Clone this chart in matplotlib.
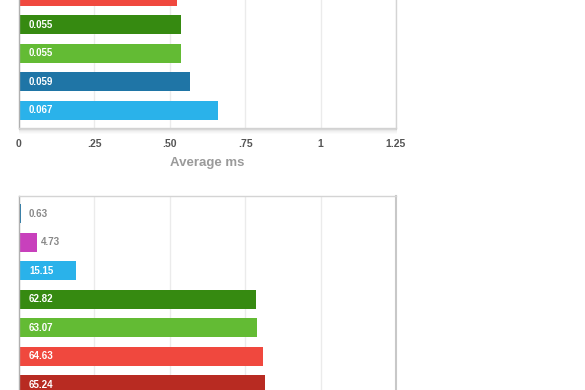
import matplotlib
matplotlib.use("Agg")
import matplotlib.pyplot as plt

plt.rcParams['font.family'] = ['Liberation Sans', 'DejaVu Sans']

# top chart (only the lower part is visible)
top_values = [0.524, 0.537, 0.537, 0.567, 0.66]
top_labels = ['0.054', '0.055', '0.055', '0.059', '0.067']
top_colors = ['#f0483e', '#368a11', '#63bb34', '#1f75a6', '#2ab2ea']
top_ticks = [0, 0.25, 0.5, 0.75, 1, 1.25]
top_ticklabels = ['0', '.25', '.50', '.75', '1', '1.25']

# bottom chart (only the upper part is visible)
bot_values = [0.63, 4.73, 15.15, 62.82, 63.07, 64.63, 65.24]
bot_labels = ['0.63', '4.73', '15.15', '62.82', '63.07', '64.63', '65.24']
bot_colors = ['#1f75a6', '#c840bc', '#2ab2ea', '#368a11', '#63bb34', '#f0483e', '#b82b22']
bot_ticks = [0, 20, 40, 60, 80, 100]

W, H = 585, 390
fig = plt.figure(figsize=(W / 100, H / 100), dpi=100)

step = 28.5      # px between bar centres
margin = 0.62    # in bar units
left, right = 19, 396


def make_axes(top_px, n):
    h = (n - 1 + 2 * margin) * step
    return fig.add_axes([left / W, 1 - (top_px + h) / H, (right - left) / W, h / H])


def draw(ax, values, labels, colors, xmax, ticks):
    n = len(values)
    ys = list(range(n))
    ax.barh(ys, values, height=0.67, color=colors, zorder=2)
    ax.set_ylim(n - 1 + margin, -margin)
    ax.set_xlim(0, xmax)
    ax.set_xticks(ticks)
    ax.set_yticks([])
    ax.grid(axis='x', color='#ebebeb', linewidth=1, zorder=0)
    for s in ax.spines.values():
        s.set_color('#d4d4d4')
        s.set_linewidth(1)
    ax.spines['left'].set_color('#b0b0b0')
    px = xmax / (right - left)
    for y, v, lab in zip(ys, values, labels):
        if v / px > 40:
            ax.text(10 * px, y, lab, color='white', fontsize=7,
                    fontweight='bold', va='center', ha='left', zorder=3)
        else:
            ax.text(max(v + 4 * px, 10 * px), y, lab, color='#888888',
                    fontsize=7, fontweight='bold', va='center', ha='left', zorder=3)


# top axes: bottom edge at y=128 px
h_top = (len(top_values) - 1 + 2 * margin) * step
ax1 = make_axes(128 - h_top, len(top_values))
draw(ax1, top_values, top_labels, top_colors, 1.25, top_ticks)
ax1.set_xticklabels(top_ticklabels)
ax1.tick_params(axis='x', length=0, pad=8, labelsize=7.5, labelcolor='#555555')
for t in ax1.get_xticklabels():
    t.set_fontweight('bold')
ax1.set_xlabel('Average ms', fontsize=9.5, fontweight='bold', color='#9a9a9a', labelpad=6)

# soft shadow under the top chart
for i, a in enumerate([0.12, 0.08, 0.05, 0.03, 0.015]):
    yy = 1 - (129 + i) / H
    fig.add_artist(plt.Line2D([left / W, right / W], [yy, yy], color='black',
                              alpha=a, linewidth=0.8, transform=fig.transFigure))

# bottom axes: top edge at y=196 px
ax2 = make_axes(196, len(bot_values))
draw(ax2, bot_values, bot_labels, bot_colors, 100, bot_ticks)
ax2.set_xticklabels([])
ax2.tick_params(axis='x', length=0)
ax2.spines['right'].set_color('#c8c8c8')
ax2.spines['right'].set_linewidth(1.5)

fig.savefig('out.png', dpi=100)
